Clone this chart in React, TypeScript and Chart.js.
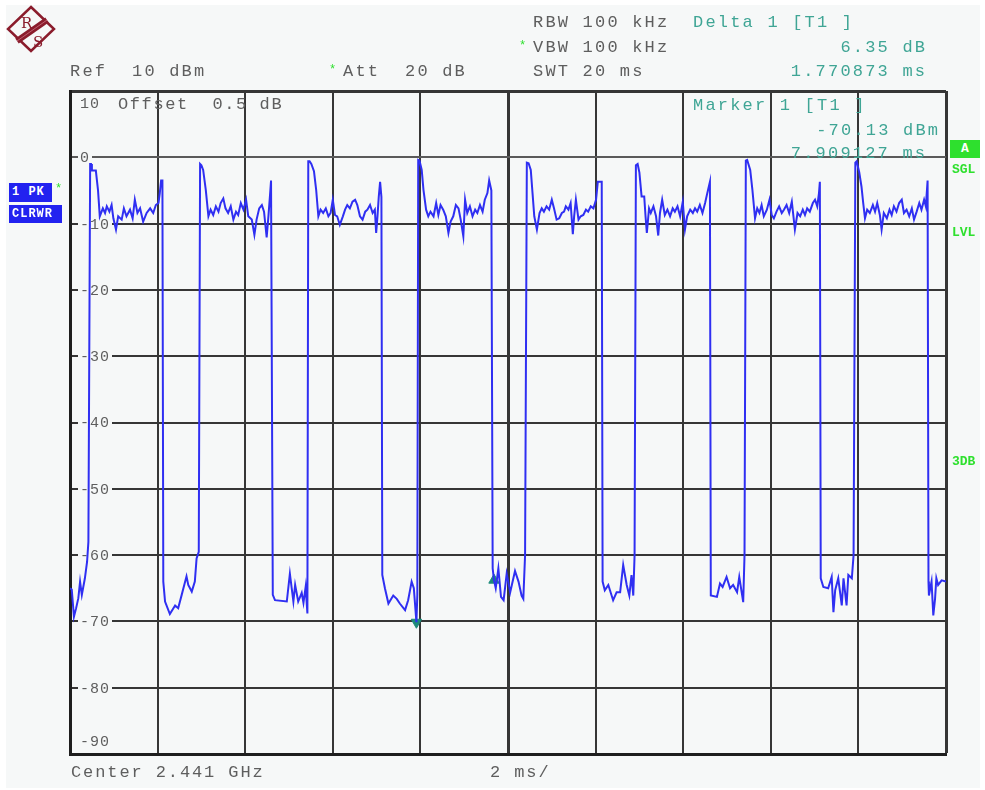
import React, { useEffect, useRef } from "react";
import { Chart, registerables } from "chart.js";
Chart.register(...registerables);

// ---- Data (time in ms, level in dBm) ----
type P = [number, number];
const startGap: P[] = [[0.00,-65.0],[0.04,-65.2],[0.09,-69.3],[0.14,-68.0],[0.19,-66.5],[0.23,-64.0],[0.27,-66.0],[0.34,-63.5],[0.39,-61.0],[0.42,-58.0]];
const burst1: P[] = [[0.46,-1.0],[0.48,-1.0],[0.50,-2.0],[0.59,-2.0],[0.64,-5.0],[0.68,-8.9],[0.75,-7.7],[0.80,-8.4],[0.84,-7.4],[0.90,-8.2],[0.95,-7.2],[0.99,-9.2],[1.05,-10.9],[1.10,-8.9],[1.18,-9.4],[1.23,-7.7],[1.29,-8.9],[1.37,-7.9],[1.43,-9.2],[1.48,-6.4],[1.54,-8.4],[1.60,-7.7],[1.67,-9.7],[1.75,-8.4],[1.83,-7.7],[1.90,-8.4],[1.96,-7.2],[2.02,-6.9],[2.05,-5.4],[2.08,-3.5],[2.11,-3.5]];
const gap1: P[] = [[2.13,-64.0],[2.17,-67.0],[2.28,-68.9],[2.40,-67.6],[2.47,-68.0],[2.55,-66.0],[2.66,-63.2],[2.70,-64.5],[2.78,-65.5],[2.85,-64.0],[2.89,-60.5],[2.94,-59.5]];
const burst2: P[] = [[2.97,-1.0],[3.00,-1.2],[3.04,-1.9],[3.10,-4.9],[3.16,-8.9],[3.21,-7.9],[3.27,-8.7],[3.33,-7.4],[3.39,-8.2],[3.44,-6.9],[3.50,-6.2],[3.55,-7.7],[3.61,-8.4],[3.67,-7.4],[3.73,-9.4],[3.79,-8.2],[3.84,-8.7],[3.90,-6.9],[3.96,-7.9],[4.02,-6.4],[4.07,-8.9],[4.15,-9.4],[4.21,-11.7],[4.26,-9.4],[4.32,-7.7],[4.38,-7.2],[4.43,-8.2],[4.49,-12.1],[4.53,-8.9],[4.57,-5.4],[4.59,-3.5],[4.61,-3.5]];
const gap2: P[] = [[4.63,-66.0],[4.68,-66.8],[4.95,-67.0],[5.02,-62.8],[5.10,-67.0],[5.14,-64.5],[5.21,-67.0],[5.29,-65.7],[5.33,-67.2],[5.38,-64.8],[5.42,-68.8]];
const burst3: P[] = [[5.44,-0.6],[5.47,-0.6],[5.51,-1.0],[5.57,-2.1],[5.62,-4.9],[5.67,-8.9],[5.72,-7.9],[5.78,-8.4],[5.84,-7.7],[5.90,-8.9],[5.95,-8.4],[6.00,-6.4],[6.05,-8.7],[6.10,-8.9],[6.16,-10.2],[6.23,-8.9],[6.28,-7.9],[6.33,-7.2],[6.39,-7.7],[6.45,-6.7],[6.51,-6.4],[6.56,-7.2],[6.62,-8.9],[6.68,-9.4],[6.74,-8.2],[6.79,-7.9],[6.85,-7.2],[6.91,-8.4],[6.96,-7.9],[6.99,-11.4],[7.02,-8.9],[7.05,-5.9],[7.08,-3.7],[7.11,-6.0]];
const gap3: P[] = [[7.13,-63.0],[7.19,-65.0],[7.27,-67.3],[7.38,-66.1],[7.46,-66.6],[7.53,-67.3],[7.65,-68.3],[7.72,-66.8],[7.80,-64.0],[7.85,-65.0],[7.909,-70.13],[7.93,-66.0]];
const burst4: P[] = [[7.95,-0.4],[7.98,-0.5],[8.03,-1.9],[8.07,-4.9],[8.13,-7.9],[8.18,-8.9],[8.23,-8.2],[8.30,-8.9],[8.36,-6.9],[8.41,-8.7],[8.46,-7.2],[8.52,-7.9],[8.58,-8.9],[8.64,-11.4],[8.69,-9.7],[8.75,-8.9],[8.81,-7.2],[8.87,-7.7],[8.92,-9.4],[8.98,-11.9],[9.02,-6.4],[9.07,-8.4],[9.13,-7.4],[9.19,-8.9],[9.25,-7.9],[9.30,-8.4],[9.36,-7.2],[9.42,-8.2],[9.47,-6.4],[9.53,-5.4],[9.57,-3.5],[9.62,-5.0]];
const gap4: P[] = [[9.65,-62.0],[9.68,-63.78],[9.72,-65.0],[9.78,-62.0],[9.84,-66.3],[9.90,-66.8],[9.97,-62.8],[10.05,-65.6],[10.16,-62.4],[10.24,-64.0],[10.31,-66.1],[10.35,-66.6],[10.39,-60.0]];
const burst5: P[] = [[10.43,-0.8],[10.47,-0.9],[10.52,-1.9],[10.56,-5.4],[10.60,-8.9],[10.66,-10.9],[10.72,-8.4],[10.77,-7.7],[10.82,-8.2],[10.88,-7.4],[10.94,-7.9],[11.00,-6.4],[11.05,-7.7],[11.11,-9.4],[11.17,-9.2],[11.23,-8.4],[11.28,-8.2],[11.32,-7.4],[11.38,-7.9],[11.43,-6.9],[11.48,-11.6],[11.51,-8.9],[11.55,-6.4],[11.61,-9.4],[11.66,-8.9],[11.72,-8.7],[11.78,-7.9],[11.83,-8.2],[11.89,-7.4],[11.95,-7.7],[12.01,-6.4],[12.05,-3.7],[12.14,-3.7]];
const gap5: P[] = [[12.16,-64.0],[12.21,-65.3],[12.29,-64.5],[12.40,-66.8],[12.48,-65.6],[12.56,-65.6],[12.63,-61.5],[12.71,-64.5],[12.77,-66.1],[12.82,-63.0],[12.86,-66.1],[12.89,-60.0]];
const burst6: P[] = [[12.92,-1.2],[12.96,-1.0],[13.00,-2.3],[13.05,-5.9],[13.11,-5.9],[13.14,-8.9],[13.17,-11.4],[13.22,-7.7],[13.26,-8.4],[13.32,-7.4],[13.38,-8.9],[13.43,-11.8],[13.47,-8.4],[13.52,-6.4],[13.58,-8.7],[13.64,-7.9],[13.70,-8.9],[13.76,-7.7],[13.81,-8.2],[13.87,-7.4],[13.93,-8.9],[13.99,-6.7],[14.04,-10.9],[14.09,-8.9],[14.16,-7.9],[14.22,-8.4],[14.27,-7.7],[14.32,-8.2],[14.38,-7.2],[14.44,-8.4],[14.50,-6.9],[14.55,-5.4],[14.61,-3.7]];
const gap6: P[] = [[14.63,-66.1],[14.77,-66.3],[14.84,-64.3],[14.90,-64.8],[14.99,-63.3],[15.07,-65.0],[15.14,-64.5],[15.23,-65.6],[15.28,-63.3],[15.34,-65.8],[15.37,-67.1],[15.40,-60.0]];
const burst7: P[] = [[15.43,-0.5],[15.46,-0.4],[15.53,-1.9],[15.58,-4.9],[15.64,-9.2],[15.69,-7.7],[15.74,-8.4],[15.79,-7.2],[15.84,-8.9],[15.91,-7.9],[15.97,-6.4],[16.02,-8.7],[16.07,-9.2],[16.13,-8.2],[16.19,-7.4],[16.25,-8.4],[16.30,-7.9],[16.36,-7.2],[16.42,-8.4],[16.48,-6.7],[16.55,-10.9],[16.61,-8.4],[16.67,-8.9],[16.73,-7.9],[16.78,-8.7],[16.83,-7.7],[16.89,-8.2],[16.96,-6.9],[17.01,-6.4],[17.06,-7.4],[17.10,-5.4],[17.12,-3.7]];
const gap7: P[] = [[17.14,-63.5],[17.20,-64.8],[17.31,-65.0],[17.39,-63.3],[17.43,-68.6],[17.47,-65.3],[17.54,-63.5],[17.62,-67.6],[17.66,-63.5],[17.73,-67.6],[17.77,-63.0],[17.85,-63.5],[17.89,-60.0]];
const burst8: P[] = [[17.93,-0.8],[17.96,-0.6],[18.02,-2.3],[18.07,-4.4],[18.11,-6.9],[18.15,-9.2],[18.20,-7.9],[18.26,-8.4],[18.33,-7.2],[18.38,-8.2],[18.43,-6.9],[18.49,-8.7],[18.53,-10.9],[18.58,-8.4],[18.65,-9.2],[18.71,-7.9],[18.76,-8.7],[18.81,-7.4],[18.87,-8.2],[18.93,-6.9],[18.99,-6.4],[19.04,-8.4],[19.10,-7.9],[19.16,-8.9],[19.22,-7.7],[19.27,-9.4],[19.33,-8.2],[19.39,-6.9],[19.44,-7.9],[19.50,-6.4],[19.54,-7.4],[19.58,-3.5]];
const gap8: P[] = [[19.60,-64.0],[19.61,-66.1],[19.67,-64.0],[19.71,-69.1],[19.75,-66.6],[19.78,-63.5],[19.82,-64.5],[19.90,-63.8],[20.00,-64.0]];

const marker1: P = [7.909127, -70.13];
const delta1: P = [9.68, -63.78];

const yTickValues = [0, -10, -20, -30, -40, -50, -60, -70, -80, -90];
const yTickLabels = ["0", "-10", "-20", "-30", "-40", "-50", "-60", "-70", "-80", "-90"];

const BG = "#f6f8f8";
const GRAY = "#5e5e5e";
const TEAL = "#3fa595";
const GREEN = "#2ee02e";
const MONO = '"Liberation Mono", "DejaVu Sans Mono", monospace';

const trace = [startGap, burst1, gap1, burst2, gap2, burst3, gap3, burst4, gap4, burst5, gap5, burst6, gap6, burst7, gap7, burst8, gap8]
  .flat()
  .map(([x, y]) => ({ x, y }));

const yLabelPlugin = {
  id: "yLabels",
  beforeDatasetsDraw(chart: any) {
    const ctx = chart.ctx as CanvasRenderingContext2D;
    const ys = chart.scales.y;
    const left = chart.chartArea.left;
    ctx.save();
    ctx.font = `15px ${MONO}`;
    (ctx as any).letterSpacing = "1px";
    ctx.textBaseline = "middle";
    ctx.textAlign = "left";
    yTickValues.forEach((v, i) => {
      const lab = yTickLabels[i];
      const py = v === -90 ? ys.getPixelForValue(-88) : ys.getPixelForValue(v);
      const w = ctx.measureText(lab).width;
      if (v !== -90) {
        ctx.fillStyle = BG;
        ctx.fillRect(left + 8, py - 3, w + 4, 6);
      }
      ctx.fillStyle = GRAY;
      ctx.fillText(lab, left + 10, py + 1);
    });
    ctx.restore();
  },
};

function T({ x, y, text, color = GRAY, right, size = 17, spacing = 2.2, bold = false }: { x?: number; y: number; text: string; color?: string; right?: number; size?: number; spacing?: number; bold?: boolean }) {
  const style: React.CSSProperties = {
    position: "absolute",
    top: y - 10,
    height: 20,
    lineHeight: "20px",
    fontFamily: MONO,
    fontSize: size,
    fontWeight: bold ? "bold" : "normal",
    letterSpacing: spacing,
    color,
    whiteSpace: "pre",
  };
  if (right !== undefined) style.right = 985 - right - spacing;
  else style.left = x;
  return <div style={style}>{text}</div>;
}

function Badge({ x, y, w, h, text, bg, color = "#fff" }: { x: number; y: number; w: number; h: number; text: string; bg: string; color?: string }) {
  return (
    <div style={{ position: "absolute", left: x, top: y, width: w, height: h, background: bg, color, fontFamily: MONO, fontWeight: "bold", fontSize: 12, lineHeight: `${h}px`, letterSpacing: 1, paddingLeft: 3, boxSizing: "border-box", whiteSpace: "pre" }}>
      {text}
    </div>
  );
}

export default function App() {
  const ref = useRef<HTMLCanvasElement>(null);
  useEffect(() => {
    const chart = new Chart(ref.current!, {
      type: "line",
      data: {
        datasets: [
          {
            label: "Trace 1",
            data: trace,
            borderColor: "#2f2ff2",
            borderWidth: 2,
            pointRadius: 0,
            tension: 0,
            fill: false,
          },
          {
            label: "Marker 1",
            data: [{ x: marker1[0], y: marker1[1] }],
            showLine: false,
            pointStyle: "triangle",
            rotation: 180,
            pointRadius: 6,
            backgroundColor: "#1c8a7a",
            borderColor: "#1c8a7a",
          },
          {
            label: "Delta 1",
            data: [{ x: delta1[0], y: delta1[1] }],
            showLine: false,
            pointStyle: "triangle",
            pointRadius: 6,
            backgroundColor: "#1c8a7a",
            borderColor: "#1c8a7a",
          },
        ],
      },
      options: {
        responsive: false,
        animation: false,
        devicePixelRatio: 1,
        layout: { padding: { left: 70, top: 91, right: 39, bottom: 36 } },
        plugins: { legend: { display: false }, tooltip: { enabled: false } },
        scales: {
          x: {
            type: "linear",
            min: 0,
            max: 20,
            ticks: { display: false, stepSize: 2 },
            grid: {
              drawTicks: false,
              color: "#363636",
              lineWidth: (c: any) => (c.tick && (c.tick.value === 10 || c.tick.value === 20) ? 3 : 2),
            },
            border: { display: true, color: "#1e1e1e", width: 3 },
          },
          y: {
            min: -90,
            max: 10,
            ticks: { display: false, stepSize: 10 },
            grid: {
              drawTicks: false,
              color: (c: any) => (c.tick && c.tick.value === 0 ? "#5a5a5a" : "#363636"),
              lineWidth: (c: any) => (c.tick && c.tick.value === 10 ? 3 : 2),
            },
            border: { display: true, color: "#1e1e1e", width: 3 },
          },
        },
      },
      plugins: [yLabelPlugin],
    } as any);
    return () => chart.destroy();
  }, []);

  return (
    <div style={{ position: "fixed", left: 0, top: 0, width: 985, height: 790, background: "#fff", overflow: "hidden" }}>
      <div style={{ position: "absolute", left: 6, top: 5, width: 974, height: 783, background: BG }} />
      <canvas ref={ref} width={985} height={790} style={{ position: "absolute", left: 0, top: 0, width: 985, height: 790 }} />

      {/* R&S logo */}
      <svg style={{ position: "absolute", left: 5, top: 4 }} width={52} height={50} viewBox="0 0 52 50">
        <polygon points="26,3 49,25 26,47 3,25" fill="none" stroke="#8a1c2c" strokeWidth={2.5} />
        <line x1="12" y1="37" x2="42" y2="16" stroke="#8a1c2c" strokeWidth={6} />
        <line x1="12" y1="37" x2="42" y2="16" stroke="#c06070" strokeWidth={1} />
        <text x="16" y="24" fontFamily="DejaVu Serif" fontSize="15" fill="#8a1c2c">R</text>
        <text x="28" y="43" fontFamily="DejaVu Serif" fontSize="15" fill="#8a1c2c">S</text>
      </svg>

      <T x={533} y={23} text="RBW 100 kHz" />
      <T x={693} y={23} text="Delta 1 [T1 ]" color={TEAL} />
      <T x={519} y={46} text="*" color={GREEN} size={12} spacing={0} />
      <T x={533} y={48} text="VBW 100 kHz" />
      <T right={925} y={48} text="6.35 dB" color={TEAL} />
      <T x={70} y={72} text="Ref  10 dBm" />
      <T x={329} y={70} text="*" color={GREEN} size={12} spacing={0} />
      <T x={343} y={72} text="Att  20 dB" />
      <T x={533} y={72} text="SWT 20 ms" />
      <T right={925} y={72} text="1.770873 ms" color={TEAL} />

      <T x={80} y={105} text="10" size={15} spacing={1} />
      <T x={118} y={105} text="Offset  0.5 dB" spacing={1.6} />
      <T x={693} y={106} text="Marker 1 [T1 ]" color={TEAL} />
      <T right={938} y={131} text="-70.13 dBm" color={TEAL} />
      <T right={925} y={154} text="7.909127 ms" color={TEAL} />

      <Badge x={9} y={183} w={43} h={19} text="1 PK" bg="#2222f0" />
      <T x={55} y={189} text="*" color={GREEN} size={12} spacing={0} />
      <Badge x={9} y={205} w={53} h={18} text="CLRWR" bg="#2222f0" />

      <div style={{ position: "absolute", left: 950, top: 140, width: 30, height: 18, background: GREEN, color: "#fff", fontFamily: MONO, fontWeight: "bold", fontSize: 13, lineHeight: "18px", textAlign: "center" }}>A</div>
      <T x={952} y={170} text="SGL" color={GREEN} size={13} spacing={0} bold />
      <T x={952} y={233} text="LVL" color={GREEN} size={13} spacing={0} bold />
      <T x={952} y={462} text="3DB" color={GREEN} size={13} spacing={0} bold />

      <T x={71} y={773} text="Center 2.441 GHz" spacing={1.9} />
      <T x={490} y={773} text="2 ms/" spacing={1.9} />
    </div>
  );
}
